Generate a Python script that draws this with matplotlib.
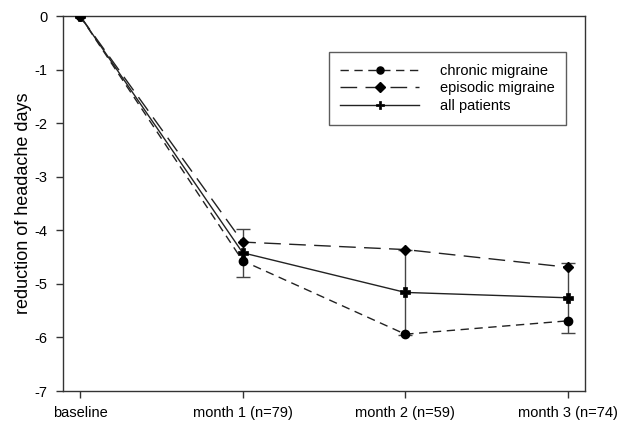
import matplotlib
matplotlib.use("Agg")
import matplotlib.pyplot as plt

plt.rcParams['font.family'] = ['Liberation Sans', 'DejaVu Sans']

categories = ["baseline", "month 1 (n=79)", "month 2 (n=59)", "month 3 (n=74)"]
chronic = [0, -4.57, -5.94, -5.69]
episodic = [0, -4.22, -4.36, -4.69]
all_patients = [0, -4.42, -5.16, -5.26]
all_err = [0, 0.45, 0.79, 0.65]
yticks = [0, -1, -2, -3, -4, -5, -6, -7]

fig = plt.figure(figsize=(6.21, 4.23), dpi=100)
ax = fig.add_axes([63/621, 32/423, (585-63)/621, (391-16)/423])
x = list(range(len(categories)))

ax.errorbar(x[1:], all_patients[1:], yerr=all_err[1:], fmt='none', ecolor='#444444',
            elinewidth=1.0, capsize=5, capthick=1.0, zorder=1)
ax.plot(x, chronic, color='#222222', lw=1.0, ls=(0, (6, 4)), marker='o', ms=6,
        mfc='black', mec='black', label='chronic migraine', zorder=3)
ax.plot(x, episodic, color='#222222', lw=1.0, ls=(0, (12, 6)), marker='D', ms=5.5,
        mfc='black', mec='black', label='episodic migraine', zorder=3)
ax.plot(x, all_patients, color='#222222', lw=1.0, ls='-', marker='P', ms=7.5,
        mfc='black', mec='black', mew=0.5, label='all patients', zorder=3)

ax.set_xlim(-0.105, 3.105)
ax.set_ylim(-7, 0)
ax.set_xticks(x)
ax.set_xticklabels(categories, fontsize=10.5)
ax.set_yticks(yticks)
ax.set_yticklabels([str(t) for t in yticks], fontsize=10.5)
ax.tick_params(direction='out', length=5, width=1, color='#333333')
ax.tick_params(axis='y', pad=6)
ax.tick_params(axis='x', pad=6)
for s in ax.spines.values():
    s.set_color('#333333')
    s.set_linewidth(1.0)
ax.set_ylabel("reduction of headache days", fontsize=13, labelpad=2)

leg = ax.legend(loc='upper right', bbox_to_anchor=(566/621, 1-52/423), bbox_transform=fig.transFigure,
                fontsize=10.5, frameon=True, fancybox=False, edgecolor='#333333',
                handlelength=5.4, handletextpad=1.4, borderpad=0.8, labelspacing=0.25,
                borderaxespad=0, markerscale=0.85)
leg.get_frame().set_linewidth(1.0)

fig.savefig("out.png", dpi=100)
